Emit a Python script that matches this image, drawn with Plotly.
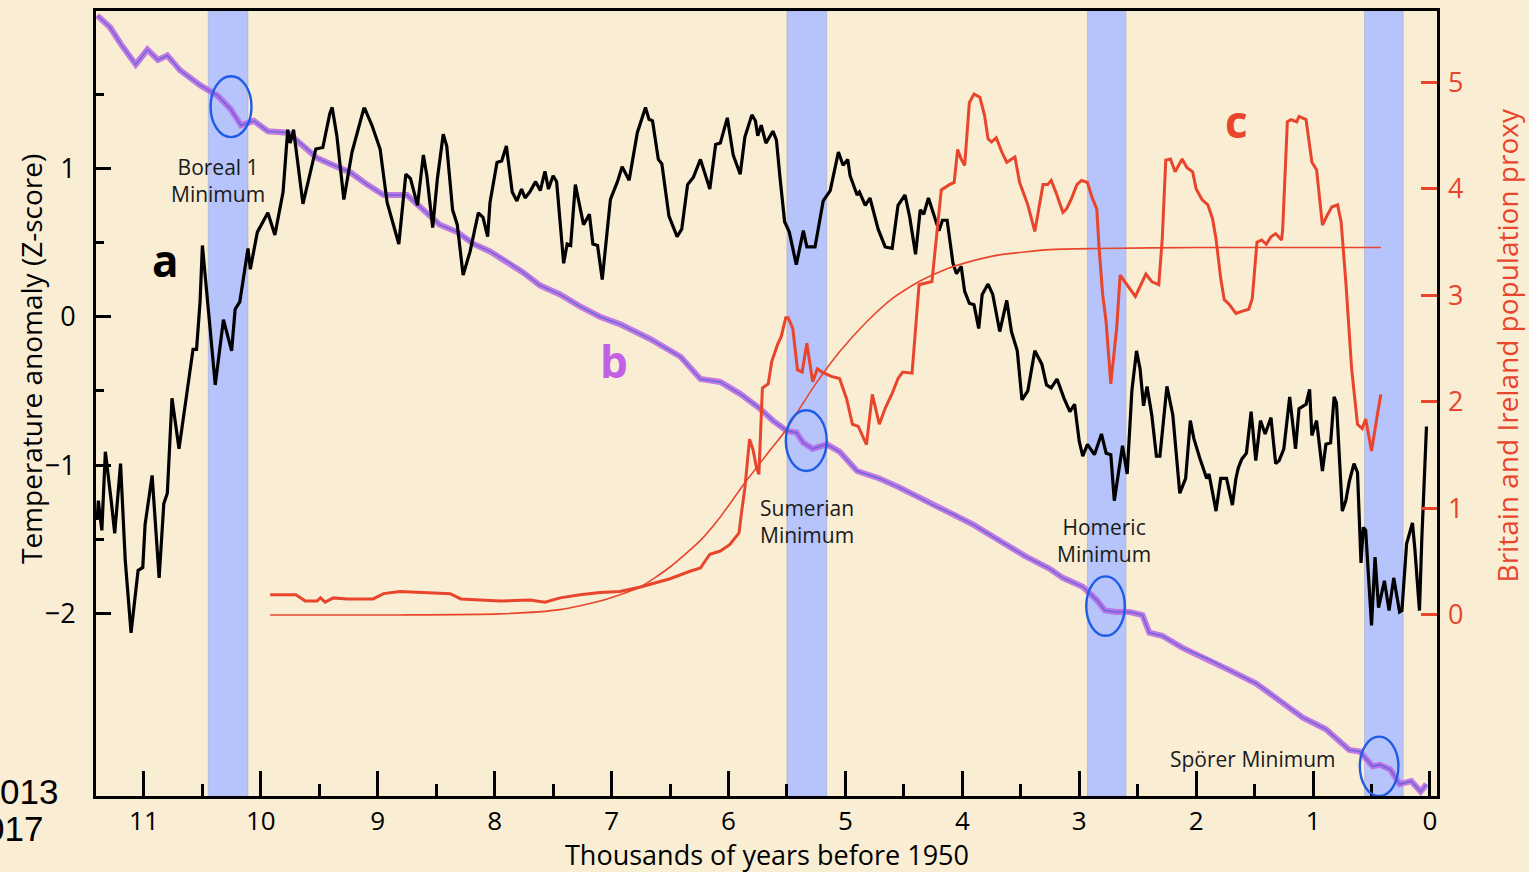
import plotly.graph_objects as go

# ---------------- data ----------------
# (a) temperature anomaly, Z-score, vs thousands of years before 1950
temp_kyr = [11.40, 11.39, 11.36, 11.33, 11.28, 11.25, 11.20, 11.16, 11.11, 11.05, 11.01, 10.99,
            10.93, 10.87, 10.83, 10.80, 10.76, 10.70, 10.63, 10.58, 10.55, 10.52, 10.50, 10.46,
            10.44, 10.39, 10.32, 10.25, 10.22, 10.18, 10.11, 10.09, 10.03, 9.94, 9.88, 9.81,
            9.77, 9.75, 9.72, 9.64, 9.59, 9.53, 9.47, 9.41, 9.39, 9.35, 9.29, 9.22, 9.12, 9.11,
            9.05, 8.98, 8.92, 8.82, 8.76, 8.72, 8.66, 8.61, 8.58, 8.53, 8.49, 8.44, 8.41, 8.36,
            8.32, 8.27, 8.21, 8.14, 8.10, 8.06, 8.04, 7.98, 7.94, 7.90, 7.85, 7.81, 7.77, 7.74,
            7.70, 7.65, 7.61, 7.57, 7.54, 7.50, 7.47, 7.41, 7.38, 7.35, 7.31, 7.24, 7.19, 7.16,
            7.12, 7.08, 7.01, 6.95, 6.91, 6.85, 6.78, 6.71, 6.68, 6.65, 6.60, 6.57, 6.51, 6.44,
            6.40, 6.35, 6.30, 6.24, 6.16, 6.11, 6.07, 6.01, 5.96, 5.90, 5.86, 5.80, 5.77, 5.75,
            5.72, 5.68, 5.62, 5.59, 5.56, 5.52, 5.48, 5.42, 5.36, 5.33, 5.26, 5.19, 5.13, 5.06,
            5.02, 4.98, 4.96, 4.90, 4.88, 4.83, 4.79, 4.72, 4.66, 4.60, 4.55, 4.49, 4.45, 4.40,
            4.36, 4.33, 4.29, 4.24, 4.20, 4.17, 4.13, 4.08, 4.05, 4.01, 3.98, 3.94, 3.90, 3.86,
            3.83, 3.78, 3.74, 3.68, 3.62, 3.58, 3.53, 3.49, 3.44, 3.38, 3.32, 3.28, 3.24, 3.19,
            3.13, 3.08, 3.04, 3.00, 2.97, 2.93, 2.87, 2.81, 2.77, 2.73, 2.70, 2.63, 2.59, 2.55,
            2.51, 2.48, 2.45, 2.42, 2.38, 2.34, 2.31, 2.25, 2.20, 2.14, 2.09, 2.05, 2.02, 1.97,
            1.91, 1.89, 1.83, 1.79, 1.74, 1.69, 1.66, 1.64, 1.61, 1.57, 1.53, 1.49, 1.45, 1.41,
            1.36, 1.32, 1.29, 1.25, 1.20, 1.15, 1.12, 1.06, 1.03, 1.01, 0.97, 0.92, 0.89, 0.85,
            0.82, 0.80, 0.75, 0.72, 0.69, 0.65, 0.62, 0.59, 0.57, 0.55, 0.50, 0.47, 0.44, 0.39,
            0.35, 0.31, 0.26, 0.24, 0.20, 0.15, 0.13, 0.09, 0.07, 0.03]
temp_z = [-1.37, -1.24, -1.44, -0.91, -1.24, -1.46, -0.99, -1.64, -2.13, -1.71, -1.69, -1.40,
          -1.07, -1.76, -1.26, -1.19, -0.55, -0.89, -0.50, -0.22, -0.22, 0.10, 0.48, 0.10,
          -0.03, -0.46, -0.02, -0.23, 0.05, 0.10, 0.46, 0.32, 0.57, 0.70, 0.55, 0.84,
          1.26, 1.17, 1.26, 0.76, 0.93, 1.13, 1.14, 1.37, 1.41, 1.22, 0.79, 1.11, 1.40, 1.40,
          1.29, 1.13, 0.77, 0.49, 0.96, 0.93, 0.75, 1.09, 0.95, 0.60, 0.93, 1.23, 1.15, 0.72,
          0.62, 0.28, 0.44, 0.70, 0.67, 0.54, 0.77, 1.04, 1.05, 1.15, 0.84, 0.78, 0.86, 0.80,
          0.84, 0.91, 0.85, 0.98, 0.86, 0.95, 0.91, 0.36, 0.49, 0.48, 0.89, 0.62, 0.69, 0.49,
          0.48, 0.25, 0.79, 0.91, 1.01, 0.92, 1.24, 1.41, 1.33, 1.32, 1.06, 1.03, 0.68, 0.54,
          0.59, 0.89, 0.94, 1.06, 0.86, 1.16, 1.17, 1.34, 1.09, 0.96, 1.21, 1.36, 1.32, 1.22,
          1.29, 1.17, 1.25, 1.19, 0.94, 0.64, 0.57, 0.35, 0.58, 0.47, 0.47, 0.78, 0.85, 1.11,
          1.02, 1.06, 0.95, 0.82, 0.84, 0.75, 0.80, 0.59, 0.47, 0.46, 0.75, 0.82, 0.67, 0.42,
          0.72, 0.69, 0.80, 0.67, 0.58, 0.65, 0.65, 0.36, 0.29, 0.34, 0.17, 0.09, 0.08, -0.08,
          0.15, 0.22, 0.15, -0.10, 0.11, -0.10, -0.23, -0.56, -0.50, -0.23, -0.32, -0.46, -0.48, -0.42,
          -0.55, -0.64, -0.59, -0.84, -0.94, -0.86, -0.93, -0.79, -0.92, -0.93, -1.24, -0.87, -1.06, -0.50,
          -0.23, -0.35, -0.60, -0.47, -0.66, -0.94, -0.94, -0.47, -0.66, -1.19, -1.09, -0.70, -0.82, -0.95,
          -1.09, -1.06, -1.31, -1.09, -1.09, -1.27, -1.09, -1.02, -0.96, -0.92, -0.64, -0.97, -0.70, -0.79,
          -0.68, -0.99, -0.97, -0.89, -0.54, -0.89, -0.62, -0.59, -0.49, -0.80, -0.70, -1.04, -0.86, -0.85,
          -0.54, -0.58, -1.31, -1.24, -1.11, -0.99, -1.05, -1.66, -1.42, -1.44, -2.08, -1.62, -1.96, -1.78,
          -1.98, -1.76, -1.99, -1.98, -1.53, -1.39, -1.56, -1.98, -1.50, -0.74]

# (b) declining reference curve, plotted on the temperature scale
b_kyr = [11.40, 11.29, 11.20, 11.07, 10.97, 10.88, 10.80, 10.69, 10.52, 10.37, 10.26, 10.17,
         10.06, 9.94, 9.77, 9.66, 9.52, 9.38, 9.23, 9.09, 8.95, 8.75, 8.61, 8.47, 8.32, 8.18,
         8.04, 7.89, 7.76, 7.61, 7.44, 7.27, 7.10, 6.93, 6.67, 6.41, 6.24, 6.07, 5.90, 5.73,
         5.62, 5.50, 5.42, 5.36, 5.28, 5.16, 5.05, 4.90, 4.71, 4.54, 4.39, 4.25, 4.08, 3.91,
         3.68, 3.47, 3.25, 3.14, 2.97, 2.85, 2.78, 2.68, 2.57, 2.46, 2.40, 2.29, 2.12, 1.89,
         1.72, 1.49, 1.26, 1.09, 0.89, 0.69, 0.60, 0.49, 0.43, 0.34, 0.26, 0.16, 0.08, 0.03]
b_val = [2.03, 1.95, 1.84, 1.70, 1.80, 1.73, 1.76, 1.66, 1.56, 1.49, 1.40, 1.29,
         1.32, 1.25, 1.24, 1.17, 1.07, 1.02, 0.97, 0.89, 0.82, 0.82, 0.72, 0.62, 0.57, 0.49,
         0.44, 0.37, 0.30, 0.21, 0.15, 0.07, 0.00, -0.05, -0.15, -0.27, -0.42, -0.44, -0.52, -0.62,
         -0.70, -0.77, -0.78, -0.85, -0.89, -0.86, -0.91, -1.04, -1.09, -1.15, -1.21, -1.27, -1.33, -1.40,
         -1.51, -1.61, -1.70, -1.76, -1.82, -1.91, -1.98, -1.99, -1.99, -2.01, -2.13, -2.15, -2.23, -2.31,
         -2.38, -2.47, -2.60, -2.70, -2.78, -2.92, -2.93, -3.03, -3.02, -3.05, -3.15, -3.13, -3.20, -3.15]

# (c) Britain and Ireland population proxy
pop_kyr = [9.92, 9.70, 9.62, 9.52, 9.49, 9.45, 9.38, 9.26, 9.04, 8.95, 8.81, 8.64, 8.38, 8.29,
           7.95, 7.70, 7.57, 7.44, 7.27, 7.10, 6.93, 6.76, 6.63, 6.50, 6.33, 6.24, 6.16, 6.07,
           5.99, 5.95, 5.91, 5.89, 5.86, 5.82, 5.79, 5.76, 5.74, 5.71, 5.66, 5.63, 5.58, 5.55,
           5.51, 5.49, 5.45, 5.41, 5.37, 5.33, 5.28, 5.24, 5.20, 5.12, 5.05, 4.99, 4.94, 4.89,
           4.82, 4.77, 4.71, 4.66, 4.60, 4.55, 4.51, 4.43, 4.37, 4.26, 4.18, 4.11, 4.07, 4.04,
           4.01, 3.98, 3.94, 3.90, 3.85, 3.81, 3.78, 3.75, 3.71, 3.66, 3.62, 3.55, 3.51, 3.49,
           3.44, 3.38, 3.31, 3.27, 3.24, 3.20, 3.14, 3.11, 3.07, 3.02, 2.98, 2.93, 2.89, 2.85,
           2.83, 2.80, 2.77, 2.73, 2.68, 2.65, 2.61, 2.57, 2.52, 2.49, 2.43, 2.38, 2.32, 2.29,
           2.26, 2.22, 2.18, 2.12, 2.08, 2.03, 2.00, 1.95, 1.90, 1.86, 1.83, 1.79, 1.76, 1.72,
           1.66, 1.61, 1.55, 1.52, 1.48, 1.44, 1.40, 1.36, 1.32, 1.27, 1.26, 1.22, 1.19, 1.14,
           1.12, 1.06, 1.01, 0.97, 0.92, 0.88, 0.84, 0.79, 0.76, 0.72, 0.67, 0.62, 0.58, 0.55,
           0.50, 0.45, 0.42]
pop_val = [0.19, 0.19, 0.13, 0.13, 0.16, 0.12, 0.16, 0.15, 0.15, 0.20, 0.22, 0.21, 0.20, 0.15,
           0.13, 0.14, 0.12, 0.16, 0.19, 0.21, 0.22, 0.26, 0.30, 0.34, 0.41, 0.44, 0.57, 0.60,
           0.66, 0.72, 0.77, 0.95, 1.19, 1.65, 1.55, 1.38, 1.32, 2.13, 2.17, 2.38, 2.54, 2.61,
           2.79, 2.79, 2.69, 2.30, 2.28, 2.55, 2.19, 2.31, 2.28, 2.24, 2.22, 2.03, 1.79, 1.77,
           1.60, 2.07, 1.79, 1.94, 2.08, 2.22, 2.28, 2.27, 3.10, 3.13, 3.99, 4.04, 4.06, 4.37,
           4.28, 4.22, 4.81, 4.89, 4.86, 4.69, 4.47, 4.44, 4.48, 4.34, 4.25, 4.30, 4.06, 4.00,
           3.85, 3.60, 4.04, 4.04, 4.08, 3.97, 3.78, 3.81, 3.90, 4.04, 4.08, 4.06, 3.92, 3.81,
           3.44, 3.01, 2.75, 2.17, 2.69, 3.19, 3.13, 3.06, 2.99, 3.06, 3.20, 3.13, 3.10, 3.53,
           4.27, 4.28, 4.16, 4.28, 4.20, 4.16, 4.00, 3.90, 3.85, 3.72, 3.53, 3.16, 2.96, 2.92,
           2.83, 2.85, 2.87, 2.97, 3.50, 3.52, 3.48, 3.55, 3.58, 3.52, 3.62, 4.63, 4.65, 4.63,
           4.68, 4.65, 4.25, 4.18, 3.66, 3.75, 3.83, 3.85, 3.69, 3.13, 2.31, 1.79, 1.75, 1.84,
           1.54, 1.88, 2.07]

# fitted logistic growth curve for the population proxy
fit_kyr = [9.92, 8.81, 7.95, 7.44, 7.10, 6.76, 6.50, 6.24, 6.07, 5.88, 5.67, 5.52, 5.26,
           5.05, 4.82, 4.60, 4.37, 4.13, 3.96, 3.68, 3.25, 2.83, 1.97, 0.42]
fit_val = [0.00, 0.00, 0.01, 0.05, 0.13, 0.26, 0.45, 0.70, 0.92, 1.21, 1.51, 1.72, 2.16,
           2.47, 2.75, 2.97, 3.13, 3.25, 3.31, 3.38, 3.43, 3.44, 3.45, 3.45]

# solar minima (start, end in kyr BP) and their labels
minima_names = ["Boreal 1<br>Minimum", "Sumerian<br>Minimum", "Homeric<br>Minimum", "Spörer Minimum"]
minima_start = [10.45, 5.50, 2.93, 0.56]
minima_end = [10.11, 5.16, 2.60, 0.23]

x_ticks = [0, 1, 2, 3, 4, 5, 6, 7, 8, 9, 10, 11]
y_ticks = [-2, -1, 0, 1]
y2_ticks = [0, 1, 2, 3, 4, 5]

# ---------------- styling ----------------
BG = "#f9edd4"
RED = "#e8452c"
BAND = "#b6c4fb"
RING = "#1f5ce6"
FONT = "Open Sans"

fig = go.Figure()

# curve b: purple band with a thin bluish core
fig.add_trace(go.Scatter(x=b_kyr, y=b_val, mode="lines",
                         line=dict(color="rgba(186,100,228,0.85)", width=6),
                         hoverinfo="skip"))
fig.add_trace(go.Scatter(x=b_kyr, y=b_val, mode="lines",
                         line=dict(color="rgba(40,90,210,0.55)", width=1.5),
                         hoverinfo="skip"))

# population proxy and its logistic fit (right axis)
fig.add_trace(go.Scatter(x=fit_kyr, y=fit_val, mode="lines", yaxis="y2",
                         line=dict(color=RED, width=1.6, shape="spline", smoothing=0.6)))
fig.add_trace(go.Scatter(x=pop_kyr, y=pop_val, mode="lines", yaxis="y2",
                         line=dict(color=RED, width=3)))

# temperature anomaly
fig.add_trace(go.Scatter(x=temp_kyr, y=temp_z, mode="lines",
                         line=dict(color="black", width=3.2)))

# shaded minima bands
shapes = []
for s, e in zip(minima_start, minima_end):
    shapes.append(dict(type="rect", xref="x", yref="paper", x0=s, x1=e, y0=0, y1=1,
                       fillcolor=BAND, line=dict(color="rgba(150,160,200,0.6)", width=0.8),
                       layer="below"))

# rings marking each minimum on curve b
ring_x0 = [10.43, 5.51, 2.94, 0.60]
ring_x1 = [10.08, 5.16, 2.61, 0.27]
ring_y0 = [1.21, -1.04, -2.15, -3.23]
ring_y1 = [1.62, -0.63, -1.75, -2.83]
for a, b, c, d in zip(ring_x0, ring_x1, ring_y0, ring_y1):
    shapes.append(dict(type="circle", xref="x", yref="y", x0=a, x1=b, y0=c, y1=d,
                       line=dict(color=RING, width=2.4), layer="above"))

annotations = []
label_x = [10.37, 5.33, 2.785, 1.51]
label_y = [0.92, -1.38, -1.51, -2.98]
for name, lx, ly in zip(minima_names, label_x, label_y):
    annotations.append(dict(x=lx, y=ly, xref="x", yref="y", text=name, showarrow=False,
                            xanchor="center", yanchor="middle",
                            font=dict(family=FONT, size=21, color="#1a1a1a"),
                            align="center"))

# panel letters
annotations += [
    dict(x=10.815, y=0.38, xref="x", yref="y", text="<b>a</b>", showarrow=False,
         xanchor="center", yanchor="middle",
         font=dict(family=FONT, size=44, color="black")),
    dict(x=6.98, y=-0.30, xref="x", yref="y", text="<b>b</b>", showarrow=False,
         xanchor="center", yanchor="middle",
         font=dict(family=FONT, size=44, color="#c260e6")),
    dict(x=1.657, y=1.32, xref="x", yref="y", text="<b>c</b>", showarrow=False,
         xanchor="center", yanchor="middle",
         font=dict(family=FONT, size=44, color=RED)),
]

# axis titles
annotations += [
    dict(x=0.5, y=-0.074, xref="paper", yref="paper", text="Thousands of years before 1950",
         xanchor="center", yanchor="middle",
         showarrow=False, font=dict(family=FONT, size=27, color="black")),
    dict(x=-0.049, y=0.557, xref="paper", yref="paper", text="Temperature anomaly (Z-score)",
         xanchor="center", yanchor="middle",
         showarrow=False, textangle=-90, font=dict(family=FONT, size=28, color="black")),
    dict(x=1.0522, y=0.574, xref="paper", yref="paper", text="Britain and Ireland population proxy",
         xanchor="center", yanchor="middle",
         showarrow=False, textangle=-90, font=dict(family=FONT, size=28, color=RED)),
]

# source years at the lower left corner
annotations += [
    dict(x=-0.0268, y=0.006, xref="paper", yref="paper", xanchor="right", yanchor="middle",
         text="013", showarrow=False,
         font=dict(family="Liberation Sans", size=35, color="black")),
    dict(x=-0.0380, y=-0.041, xref="paper", yref="paper", xanchor="right", yanchor="middle",
         text="017", showarrow=False,
         font=dict(family="Liberation Sans", size=35, color="black")),
]

fig.update_layout(
    width=1529, height=872,
    margin=dict(l=96, r=92, t=8, b=76),
    paper_bgcolor=BG, plot_bgcolor=BG,
    showlegend=False,
    font=dict(family=FONT, color="black"),
    shapes=shapes,
    annotations=annotations,
    xaxis=dict(
        range=[11.41, -0.06], showgrid=False, zeroline=False,
        showline=True, linecolor="black", linewidth=3, mirror=True,
        tickmode="array", tickvals=x_ticks, ticktext=[str(v) for v in x_ticks],
        ticks="inside", ticklen=25, tickwidth=3, tickcolor="black",
        tickfont=dict(family=FONT, size=26, color="black"),
        ticklabelstandoff=0,
        minor=dict(dtick=0.5, tick0=0, ticks="inside", ticklen=12, tickwidth=3,
                   tickcolor="black", showgrid=False),
    ),
    yaxis=dict(
        range=[-3.23, 2.06], showgrid=False, zeroline=False,
        showline=True, linecolor="black", linewidth=3, mirror=True,
        tickmode="array", tickvals=y_ticks,
        ticks="inside", ticklen=15, tickwidth=3, tickcolor="black",
        tickfont=dict(family=FONT, size=27, color="black"),
        ticklabelstandoff=12,
        minor=dict(tickmode="array", tickvals=[-1.5, -0.5, 0.5, 1.5], ticks="inside",
                   ticklen=8, tickwidth=3, tickcolor="black", showgrid=False),
    ),
    yaxis2=dict(
        overlaying="y", side="right", anchor="x",
        range=[-1.70, 5.67], showgrid=False, zeroline=False, showline=False,
        tickmode="array", tickvals=y2_ticks,
        ticks="inside", ticklen=16, tickwidth=3, tickcolor=RED,
        tickfont=dict(family=FONT, size=27, color=RED),
        ticklabelstandoff=10,
    ),
)

fig.write_html("out.html")
